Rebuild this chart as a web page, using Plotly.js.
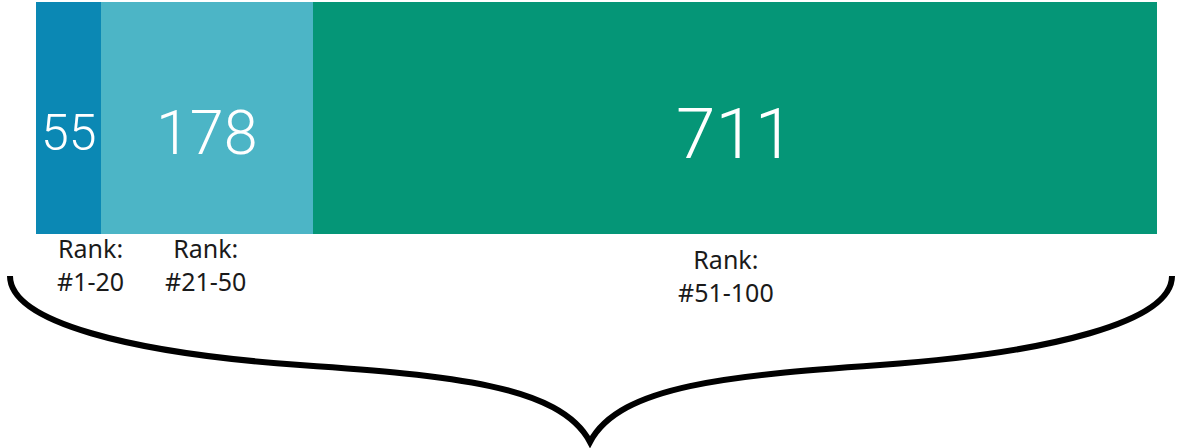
<!DOCTYPE html>
<html>
<head>
<meta charset="utf-8">
<script src="https://cdn.plot.ly/plotly-3.0.1.min.js"></script>
<style>html,body{margin:0;padding:0;background:#fff;}#chart{width:1178px;height:448px;}</style>
</head>
<body>
<div id="chart"></div>
<script>
// ---- data ----
const segmentNames = ["Rank:<br>#1-20", "Rank:<br>#21-50", "Rank:<br>#51-100"];
const segmentValues = [55, 178, 711];
const segmentColors = ["#0B88B4", "#4CB5C6", "#059677"];
const valueFontSizes = [50, 61, 71];

// ---- layout helpers ----
const W = 1178, H = 448;
const px = x => x / W;
const py = y => 1 - y / H;
const total = segmentValues.reduce((a, b) => a + b, 0);

const traces = segmentValues.map((v, i) => ({
  type: 'bar',
  orientation: 'h',
  y: [0],
  x: [v],
  width: [1],
  name: segmentNames[i],
  marker: {color: segmentColors[i], line: {width: 0}},
  hoverinfo: 'skip',
  showlegend: false
}));

const annotations = [];
let cum = 0;
segmentValues.forEach((v, i) => {
  annotations.push({
    x: cum + v / 2, y: 0, xref: 'x', yref: 'y',
    text: String(v), showarrow: false,
    yshift: -15,
    font: {family: 'Roboto', weight: 300, size: valueFontSizes[i], color: '#ffffff'}
  });
  cum += v;
});

// label positions (pixel styling)
const labelPos = [[91, 229], [205, 229], [726, 240]];
segmentNames.forEach((t, i) => {
  annotations.push({
    x: px(labelPos[i][0]), y: py(labelPos[i][1]), xref: 'paper', yref: 'paper',
    xanchor: 'center', yanchor: 'top',
    text: t, showarrow: false, align: 'center',
    font: {family: 'Noto Sans', size: 25, color: '#1a1a1a'}
  });
});

// curly brace (decoration) in pixel coordinates -> paper
const braceSegs = [
  ['M', [10, 276]],
  ['C', [10, 322], [130, 353], [300, 365]],
  ['C', [450, 375.5], [560, 385], [590, 442]],
  ['C', [620, 385], [730, 375.5], [880, 365]],
  ['C', [1050, 353], [1172, 322], [1172, 276]]
];
const bracePath = braceSegs.map(s => s[0] + ' ' + s.slice(1).map(p => px(p[0]).toFixed(5) + ',' + py(p[1]).toFixed(5)).join(' ')).join(' ');

const layout = {
  width: W, height: H,
  margin: {l: 0, r: 0, t: 0, b: 0},
  paper_bgcolor: '#ffffff', plot_bgcolor: 'rgba(0,0,0,0)',
  barmode: 'stack',
  bargap: 0,
  xaxis: {domain: [px(36), px(1157)], range: [0, total], visible: false, fixedrange: true},
  yaxis: {domain: [py(234), py(2)], range: [-0.5, 0.5], visible: false, fixedrange: true},
  annotations: annotations,
  shapes: [{
    type: 'path', xref: 'paper', yref: 'paper', path: bracePath,
    line: {color: '#000000', width: 6}, fillcolor: 'rgba(0,0,0,0)'
  }]
};

Plotly.newPlot('chart', traces, layout, {displayModeBar: false, staticPlot: true});
</script>
</body>
</html>
